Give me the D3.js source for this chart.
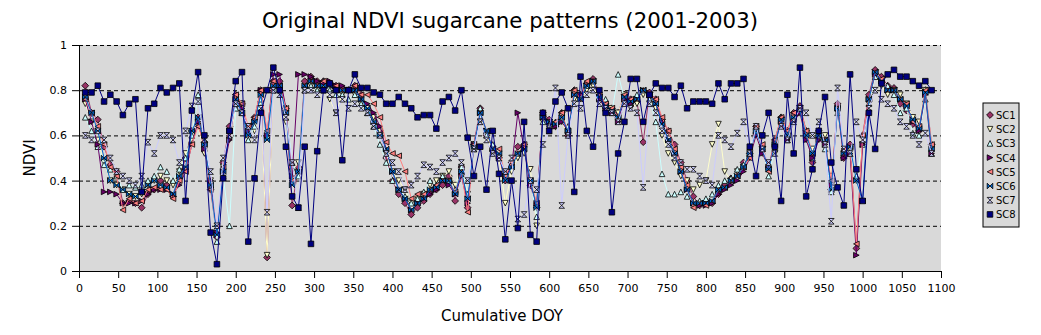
<!DOCTYPE html>
<html>
<head>
<meta charset="utf-8">
<script src="https://cdn.jsdelivr.net/npm/d3@7"></script>
<style>
  body { margin: 0; background: #fff; }
  text { font-family: "DejaVu Sans", Verdana, sans-serif; }
</style>
</head>
<body>
<svg id="chart"></svg>
<script>
// 8-day composites, cumulative day of year
const days = d3.range(8, 1089, 8);

const sc1 = [.82,.70,.67,.55,.47,.44,.30,.31,.30,.28, .34,.36,.40,.38,.33,.41,.50,.62,.68,.57,
  .36,.15,.48,.64,.78,.74,.60,.68,.80,.06, .84,.84,.72,.29,.46,.84,.86,.84,.84,.83,
  .82,.81,.80,.82,.78,.72,.68,.62,.50,.40, .34,.30,.25,.28,.31,.34,.36,.38,.42,.31,
  .46,.28,.56,.72,.60,.55,.50,.40,.48,.55, .56,.38,.28,.70,.67,.64,.70,.60,.80,.78,
  .83,.85,.78,.74,.72,.70,.78,.76,.75,.57, .79,.76,.67,.62,.56,.48,.40,.33,.29,.31,
  .30,.34,.38,.41,.43,.48,.52,.64,.55,.46, .58,.68,.62,.70,.73,.62,.48,.62,.58,.36,
  .74,.50,.56,.10,.60,.78,.89,.86,.82,.81, .74,.71,.65,.62,.80,.56];
const sc2 = [.74,.66,.58,.48,.40,.38,.36,.34,.33,.34, .38,.40,.42,.40,.38,.44,.52,.58,.64,.52,
  .40,.20,.46,.58,.72,.74,.64,.62,.74,.07, .80,.80,.66,.44,.48,.80,.82,.80,.82,.76,
  .70,.78,.80,.78,.74,.72,.68,.62,.52,.44, .40,.36,.30,.32,.34,.38,.40,.42,.44,.38,
  .46,.34,.56,.66,.60,.52,.50,.30,.44,.50, .52,.45,.20,.66,.63,.64,.66,.60,.76,.76,
  .80,.82,.76,.72,.72,.70,.78,.72,.74,.78, .76,.72,.60,.52,.48,.42,.40,.36,.38,.40,
  .56,.65,.44,.40,.44,.46,.50,.60,.52,.46, .52,.64,.58,.66,.72,.58,.54,.58,.60,.42,
  .70,.52,.54,.40,.56,.74,.86,.82,.78,.80, .78,.74,.68,.66,.80,.55];
const sc3 = [.68,.62,.55,.47,.45,.42,.36,.38,.37,.38, .40,.42,.46,.44,.40,.45,.50,.60,.78,.58,
  .40,.13,.42,.20,.72,.70,.58,.64,.76,.60, .80,.80,.72,.48,.42,.80,.82,.80,.84,.80,
  .78,.78,.76,.78,.74,.70,.64,.56,.48,.40, .36,.33,.30,.32,.35,.40,.38,.42,.40,.36,
  .46,.34,.54,.72,.60,.56,.50,.44,.47,.52, .56,.40,.24,.66,.66,.66,.70,.64,.80,.78,
  .82,.84,.78,.76,.70,.87,.76,.74,.78,.80, .76,.66,.43,.34,.34,.35,.33,.30,.31,.32,
  .34,.38,.40,.41,.45,.47,.55,.62,.55,.42, .54,.68,.58,.68,.70,.62,.50,.60,.54,.35,
  .70,.54,.52,.42,.56,.74,.86,.84,.82,.78, .70,.72,.61,.60,.76,.52];
const sc4 = [.76,.66,.56,.35,.35,.34,.30,.30,.30,.31, .34,.36,.36,.36,.34,.38,.44,.56,.66,.54,
  .40,.17,.44,.58,.76,.72,.62,.66,.80,.60, .87,.87,.72,.42,.87,.87,.86,.84,.83,.84,
  .82,.82,.80,.80,.76,.74,.70,.64,.54,.44, .36,.32,.27,.30,.32,.34,.36,.40,.38,.34,
  .42,.30,.56,.70,.62,.54,.50,.42,.46,.70, .54,.38,.30,.68,.66,.64,.66,.62,.78,.78,
  .82,.84,.76,.72,.70,.66,.76,.74,.76,.80, .78,.74,.66,.58,.52,.44,.36,.30,.29,.29,
  .30,.34,.36,.38,.40,.44,.50,.60,.52,.46, .56,.66,.58,.66,.70,.58,.50,.58,.56,.38,
  .72,.50,.52,.07,.56,.76,.87,.85,.80,.80, .76,.74,.66,.62,.78,.52];
const sc5 = [.76,.70,.64,.56,.46,.42,.27,.32,.30,.31, .36,.37,.36,.36,.32,.40,.44,.56,.64,.56,
  .36,.20,.46,.62,.78,.74,.64,.68,.80,.62, .84,.82,.72,.40,.44,.82,.84,.82,.84,.82,
  .82,.80,.80,.82,.78,.78,.74,.68,.57,.52, .51,.44,.32,.34,.34,.36,.38,.40,.40,.35,
  .44,.26,.56,.70,.62,.54,.54,.42,.48,.52, .56,.40,.30,.68,.66,.66,.70,.62,.80,.76,
  .84,.84,.78,.74,.72,.68,.78,.76,.76,.80, .78,.76,.68,.62,.54,.46,.38,.28,.30,.29,
  .31,.36,.37,.40,.42,.46,.50,.64,.56,.44, .58,.68,.62,.70,.72,.62,.52,.60,.58,.40,
  .72,.54,.55,.12,.60,.76,.88,.85,.80,.80, .76,.74,.66,.64,.80,.56];
const sc6 = [.77,.70,.62,.50,.40,.38,.36,.34,.33,.35, .38,.40,.38,.37,.34,.42,.46,.62,.68,.56,
  .38,.16,.44,.62,.76,.70,.60,.66,.78,.58, .82,.82,.70,.38,.44,.82,.84,.82,.82,.82,
  .80,.80,.80,.80,.76,.72,.66,.60,.54,.44, .36,.32,.27,.30,.32,.36,.37,.40,.40,.34,
  .44,.32,.55,.70,.62,.54,.52,.40,.46,.52, .54,.40,.28,.68,.66,.65,.68,.62,.78,.76,
  .82,.84,.77,.73,.71,.68,.77,.75,.76,.80, .78,.74,.65,.58,.52,.44,.36,.30,.30,.30,
  .31,.36,.37,.40,.42,.46,.52,.62,.54,.45, .56,.67,.60,.68,.71,.60,.52,.60,.58,.36,
  .72,.52,.55,.40,.31,.76,.88,.84,.80,.80, .76,.73,.67,.63,.79,.54];
const sc7 = [.60,.58,.62,.58,.50,.44,.42,.40,.38,.42, .57,.52,.60,.60,.58,.48,.62,.73,.75,.58,
  .44,.20,.50,.60,.74,.70,.64,.58,.72,.26, .80,.78,.68,.48,.28,.80,.80,.78,.80,.78,
  .70,.76,.72,.74,.72,.70,.64,.60,.52,.48, .44,.36,.38,.42,.47,.46,.44,.48,.50,.52,
  .48,.40,.54,.66,.58,.52,.50,.44,.50,.23, .25,.40,.36,.56,.62,.81,.29,.60,.74,.72,
  .78,.80,.74,.72,.70,.66,.74,.72,.70,.37, .74,.70,.62,.56,.50,.48,.45,.45,.42,.40,
  .38,.60,.58,.55,.61,.66,.52,.64,.54,.48, .52,.64,.58,.66,.72,.70,.60,.66,.56,.22,
  .81,.54,.52,.66,.58,.72,.80,.76,.74,.72, .66,.64,.60,.56,.61,.52];
const sc8 = [.79,.79,.82,.75,.78,.75,.69,.74,.76,.35, .72,.74,.81,.79,.81,.83,.31,.71,.88,.60,
  .17,.03,.41,.62,.84,.88,.13,.41,.70,.80, .90,.80,.55,.33,.28,.55,.12,.53,.80,.83,
  .80,.49,.80,.87,.81,.81,.79,.78,.74,.74, .77,.74,.72,.68,.69,.69,.63,.75,.77,.71,
  .80,.59,.42,.55,.36,.62,.43,.14,.40,.19, .66,.16,.13,.70,.62,.75,.79,.72,.35,.86,
  .62,.55,.80,.70,.26,.52,.66,.85,.85,.66, .78,.83,.81,.81,.77,.82,.72,.75,.75,.75,
  .74,.83,.76,.83,.83,.85,.55,.42,.60,.70, .55,.31,.78,.52,.90,.33,.45,.62,.77,.48,
  .37,.29,.87,.45,.31,.70,.54,.83,.87,.89, .86,.86,.84,.82,.84,.80];

const seriesNames = ['SC1', 'SC2', 'SC3', 'SC4', 'SC5', 'SC6', 'SC7', 'SC8'];
const seriesValues = [sc1, sc2, sc3, sc4, sc5, sc6, sc7, sc8];
const seriesColors = ['#993366', '#FFFFCC', '#CCFFFF', '#660066', '#FF8080', '#0066CC', '#CCCCFF', '#000080'];
const markerShapes = ['diamond', 'down', 'up', 'right', 'left', 'bowtie', 'hourglass', 'square'];

const yTicks = [0, 0.2, 0.4, 0.6, 0.8, 1];
const xTicks = [0, 50, 100, 150, 200, 250, 300, 350, 400, 450, 500, 550,
  600, 650, 700, 750, 800, 850, 900, 950, 1000, 1050, 1100];

const width = 1041, height = 335;
const plot = { left: 79, right: 941, top: 45, bottom: 271 };

const svg = d3.select('#chart').attr('width', width).attr('height', height);

const x = d3.scaleLinear().domain([0, 1100]).range([plot.left, plot.right]);
const y = d3.scaleLinear().domain([0, 1]).range([plot.bottom, plot.top]);

// plot area
svg.append('rect')
  .attr('x', plot.left).attr('y', plot.top)
  .attr('width', plot.right - plot.left).attr('height', plot.bottom - plot.top)
  .attr('fill', '#d9d9d9');

// gridlines
svg.append('g').selectAll('line')
  .data(yTicks.filter(d => d > 0))
  .join('line')
  .attr('x1', plot.left).attr('x2', plot.right)
  .attr('y1', d => y(d) + 0.5).attr('y2', d => y(d) + 0.5)
  .attr('stroke', '#000').attr('stroke-width', 1)
  .attr('stroke-dasharray', '4,3');

// marker shapes, centred on 0,0
const s = 2.8;
const shapePath = {
  diamond: `M0,${-s - 0.6}L${s + 0.6},0L0,${s + 0.6}L${-s - 0.6},0Z`,
  down: `M${-s},${-s}L${s},${-s}L0,${s}Z`,
  up: `M${-s},${s}L${s},${s}L0,${-s}Z`,
  right: `M${-s},${-s}L${s},0L${-s},${s}Z`,
  left: `M${s},${-s}L${-s},0L${s},${s}Z`,
  bowtie: `M${-s},${-s}L${s},${s}L${s},${-s}L${-s},${s}Z`,
  hourglass: `M${-s},${-s}L${s},${-s}L${-s},${s}L${s},${s}Z`,
  square: `M${-s},${-s}H${s}V${s}H${-s}Z`
};

const line = d3.line().x(d => x(d[0])).y(d => y(d[1]));

const plotG = svg.append('g');
seriesValues.forEach((vals, i) => {
  const pts = days.map((d, j) => [d, vals[j]]);
  const g = plotG.append('g');
  g.append('path')
    .datum(pts)
    .attr('fill', 'none')
    .attr('stroke', seriesColors[i])
    .attr('stroke-width', 1)
    .attr('d', line);
  g.selectAll('path.mk')
    .data(pts)
    .join('path')
    .attr('class', 'mk')
    .attr('transform', d => `translate(${x(d[0])},${y(d[1])})`)
    .attr('d', shapePath[markerShapes[i]])
    .attr('fill', seriesColors[i])
    .attr('stroke', '#000')
    .attr('stroke-width', 0.8);
});

// axes
const yAxis = svg.append('g')
  .attr('transform', `translate(${plot.left},0)`)
  .call(d3.axisLeft(y).tickValues(yTicks).tickSize(7).tickSizeOuter(0).tickPadding(5).tickFormat(d => d));
const xAxis = svg.append('g')
  .attr('transform', `translate(0,${plot.bottom})`)
  .call(d3.axisBottom(x).tickValues(xTicks).tickSize(7).tickSizeOuter(0).tickPadding(6).tickFormat(d => d));

[yAxis, xAxis].forEach(a => {
  a.selectAll('text').attr('font-size', '11px').attr('fill', '#000')
    .style('font-family', '"DejaVu Sans", Verdana, sans-serif');
  a.selectAll('line, path').attr('stroke', '#000');
});

// titles
svg.append('text')
  .attr('x', 510).attr('y', 28)
  .attr('text-anchor', 'middle')
  .attr('font-size', '21.3px')
  .text('Original NDVI sugarcane patterns (2001-2003)');

svg.append('text')
  .attr('x', 502).attr('y', 321)
  .attr('text-anchor', 'middle')
  .attr('font-size', '15px')
  .text('Cumulative DOY');

svg.append('text')
  .attr('transform', `translate(35,158) rotate(-90)`)
  .attr('text-anchor', 'middle')
  .attr('font-size', '15px')
  .text('NDVI');

// legend
const legend = svg.append('g').attr('transform', 'translate(983,103)');
legend.append('rect')
  .attr('width', 36).attr('height', 124)
  .attr('fill', '#d9d9d9').attr('stroke', '#000').attr('stroke-width', 1);

seriesNames.forEach((name, i) => {
  const row = legend.append('g').attr('transform', `translate(0,${12 + i * 14.2})`);
  row.append('path')
    .attr('transform', 'translate(7,0)')
    .attr('d', shapePath[markerShapes[i]])
    .attr('fill', seriesColors[i])
    .attr('stroke', '#000').attr('stroke-width', 0.8);
  row.append('text')
    .attr('x', 13).attr('y', 4)
    .attr('font-size', '10px')
    .text(name);
});
</script>
</body>
</html>
